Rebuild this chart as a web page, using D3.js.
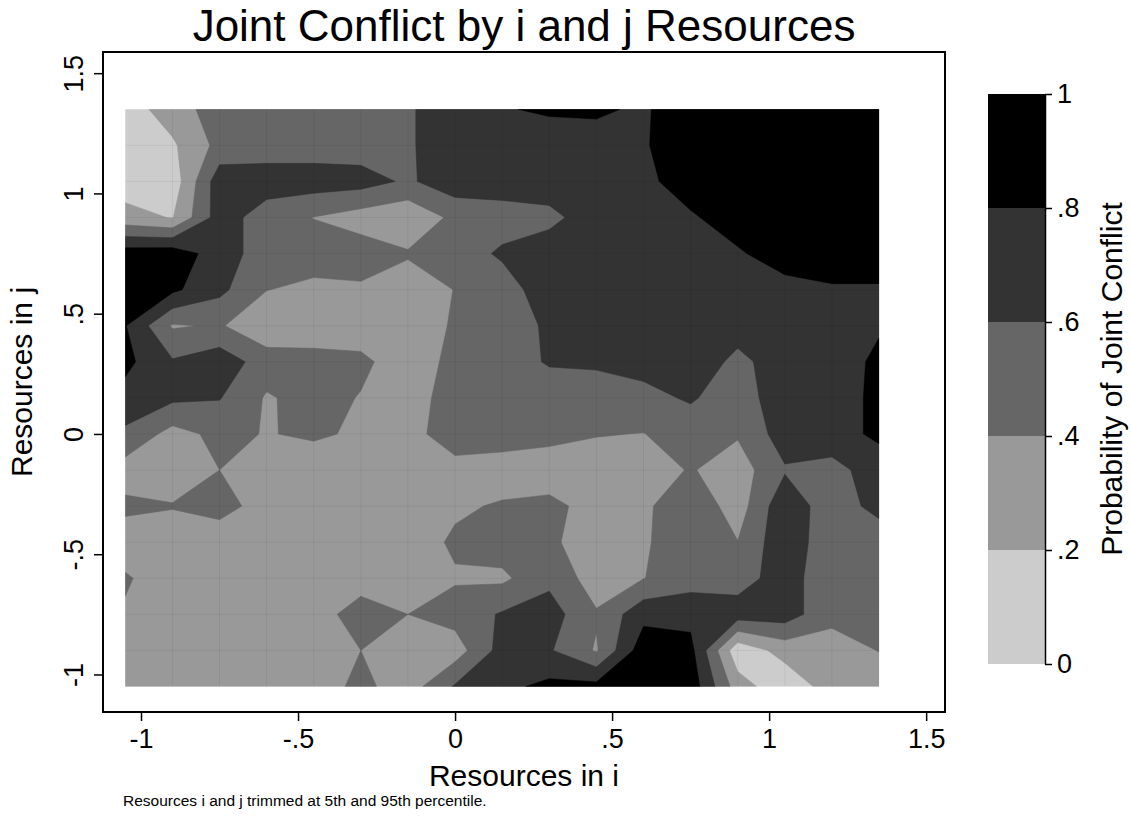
<!DOCTYPE html>
<html>
<head>
<meta charset="utf-8">
<script src="https://cdn.jsdelivr.net/npm/d3@7"></script>
<style>
	body { margin: 0; background: #fff; }
	text { font-family: "Liberation Sans", Arial, Helvetica, sans-serif; fill: #000; }
</style>
</head>
<body>
<div id="chart"></div>
<script>

// grid nodes, Resources in i (left to right) and in j (top to bottom)
const xNodes = [-1.05, -0.9, -0.75, -0.6, -0.45, -0.3, -0.15, 0, 0.15, 0.3, 0.45, 0.6, 0.75, 0.9, 1.05, 1.2, 1.35];
const yNodes = [1.35, 1.2, 1.05, 0.9, 0.75, 0.6, 0.45, 0.3, 0.15, 0, -0.15, -0.3, -0.45, -0.6, -0.75, -0.9, -1.05];

// probability of joint conflict, one row per j value
const pJ135  = [0.10, 0.30, 0.50, 0.50, 0.50, 0.50, 0.58, 0.70, 0.79, 0.82, 0.83, 0.77, 0.95, 0.95, 0.95, 0.95, 0.95];
const pJ120  = [0.10, 0.17, 0.46, 0.50, 0.50, 0.50, 0.58, 0.70, 0.70, 0.72, 0.72, 0.785, 0.90, 0.95, 0.95, 0.95, 0.95];
const pJ105  = [0.10, 0.08, 0.72, 0.70, 0.70, 0.68, 0.57, 0.72, 0.70, 0.70, 0.70, 0.75, 0.90, 0.95, 0.95, 0.95, 0.95];
const pJ090  = [0.27, 0.19, 0.70, 0.50, 0.395, 0.31, 0.24, 0.45, 0.51, 0.55, 0.70, 0.72, 0.775, 0.90, 0.95, 0.95, 0.95];
const pJ075  = [0.90, 0.92, 0.70, 0.50, 0.50, 0.50, 0.42, 0.50, 0.63, 0.70, 0.72, 0.72, 0.72, 0.776, 0.90, 0.95, 0.95];
const pJ060  = [0.90, 0.84, 0.65, 0.405, 0.35, 0.37, 0.30, 0.405, 0.50, 0.72, 0.72, 0.72, 0.72, 0.72, 0.73, 0.77, 0.77];
const pJ045  = [0.81, 0.38, 0.42, 0.25, 0.30, 0.30, 0.30, 0.42, 0.50, 0.63, 0.70, 0.70, 0.70, 0.70, 0.70, 0.72, 0.78];
const pJ030  = [0.85, 0.62, 0.72, 0.50, 0.46, 0.44, 0.30, 0.45, 0.50, 0.62, 0.63, 0.66, 0.75, 0.54, 0.72, 0.70, 0.84];
const pJ015  = [0.73, 0.64, 0.61, 0.38, 0.47, 0.39, 0.30, 0.50, 0.50, 0.48, 0.50, 0.55, 0.62, 0.50, 0.72, 0.70, 0.85];
const pJ000  = [0.56, 0.33, 0.45, 0.39, 0.43, 0.37, 0.30, 0.55, 0.50, 0.48, 0.41, 0.395, 0.50, 0.42, 0.70, 0.74, 0.83];
const pJm015 = [0.31, 0.30, 0.40, 0.30, 0.28, 0.30, 0.30, 0.30, 0.30, 0.25, 0.30, 0.30, 0.415, 0.30, 0.58, 0.52, 0.72];
const pJm030 = [0.44, 0.41, 0.49, 0.30, 0.30, 0.30, 0.30, 0.37, 0.42, 0.47, 0.30, 0.36, 0.55, 0.30, 0.75, 0.47, 0.68];
const pJm045 = [0.30, 0.30, 0.25, 0.30, 0.30, 0.30, 0.30, 0.43, 0.50, 0.45, 0.25, 0.38, 0.50, 0.405, 0.75, 0.45, 0.45];
const pJm060 = [0.42, 0.30, 0.30, 0.30, 0.30, 0.30, 0.30, 0.38, 0.36, 0.55, 0.30, 0.395, 0.51, 0.51, 0.70, 0.45, 0.50];
const pJm075 = [0.38, 0.30, 0.30, 0.30, 0.30, 0.50, 0.40, 0.48, 0.62, 0.69, 0.42, 0.74, 0.74, 0.70, 0.70, 0.45, 0.50];
const pJm090 = [0.30, 0.30, 0.30, 0.30, 0.30, 0.40, 0.30, 0.30, 0.68, 0.62, 0.38, 0.92, 0.86, 0.06, 0.28, 0.32, 0.405];
const pJm105 = [0.30, 0.30, 0.30, 0.30, 0.30, 0.45, 0.30, 0.62, 0.75, 0.85, 0.86, 0.92, 0.92, 0.30, 0.05, 0.30, 0.30];

const probRows = [pJ135, pJ120, pJ105, pJ090, pJ075, pJ060, pJ045, pJ030, pJ015,
	pJ000, pJm015, pJm030, pJm045, pJm060, pJm075, pJm090, pJm105];

// contour levels and fills
const levels = [0, 0.2, 0.4, 0.6, 0.8];
const levelColors = ["#cccccc", "#999999", "#666666", "#333333", "#000000"];

// ticks
const xTicks = [-1, -0.5, 0, 0.5, 1, 1.5];
const xTickLabels = ["-1", "-.5", "0", ".5", "1", "1.5"];
const yTicks = [-1, -0.5, 0, 0.5, 1, 1.5];
const yTickLabels = ["-1", "-.5", "0", ".5", "1", "1.5"];
const legendTicks = [0, 0.2, 0.4, 0.6, 0.8, 1];
const legendTickLabels = ["0", ".2", ".4", ".6", ".8", "1"];

const width = 1131, height = 837;
const frame = { left: 103, top: 52, right: 945, bottom: 712 };

const svg = d3.select("#chart")
	.append("svg")
	.attr("width", width)
	.attr("height", height);

const x = d3.scaleLinear().domain([-1.121, 1.56]).range([frame.left, frame.right]);
const y = d3.scaleLinear().domain([-1.156, 1.588]).range([frame.bottom, frame.top]);

// frame
svg.append("rect")
	.attr("x", frame.left)
	.attr("y", frame.top)
	.attr("width", frame.right - frame.left)
	.attr("height", frame.bottom - frame.top)
	.attr("fill", "#fff")
	.attr("stroke", "#000")
	.attr("stroke-width", 2);

// clip to the grid extent
const xMin = d3.min(xNodes), xMax = d3.max(xNodes);
const yMin = d3.min(yNodes), yMax = d3.max(yNodes);

svg.append("defs")
	.append("clipPath")
		.attr("id", "gridclip")
	.append("rect")
		.attr("x", x(xMin))
		.attr("y", y(yMax))
		.attr("width", x(xMax) - x(xMin))
		.attr("height", y(yMin) - y(yMax));

// contours
const nx = xNodes.length, ny = yNodes.length;
const step = xNodes[1] - xNodes[0];
const values = probRows.flat();

const contours = d3.contours()
	.size([nx, ny])
	.thresholds(levels)(values);

const proj = d3.geoTransform({
	point: function(px, py) {
		this.stream.point(
			x(xNodes[0] + (px - 0.5) * step),
			y(yNodes[0] - (py - 0.5) * step)
		);
	}
});
const path = d3.geoPath(proj);

const gPlot = svg.append("g").attr("clip-path", "url(#gridclip)");

gPlot.selectAll("path")
	.data(contours)
	.join("path")
		.attr("d", path)
		.attr("fill-rule", "evenodd")
		.attr("fill", (d, i) => levelColors[i])
		.attr("stroke", (d, i) => levelColors[i])
		.attr("stroke-width", 0.5);

// faint cell seams like the original rendering
gPlot.append("g")
	.selectAll("line.vx")
	.data(xNodes.slice(1, -1))
	.join("line")
		.attr("x1", d => x(d)).attr("x2", d => x(d))
		.attr("y1", y(yMax)).attr("y2", y(yMin))
		.attr("stroke", "#000")
		.attr("stroke-opacity", 0.06);

gPlot.append("g")
	.selectAll("line.hy")
	.data(yNodes.slice(1, -1))
	.join("line")
		.attr("y1", d => y(d)).attr("y2", d => y(d))
		.attr("x1", x(xMin)).attr("x2", x(xMax))
		.attr("stroke", "#000")
		.attr("stroke-opacity", 0.06);

// x axis
const gx = svg.append("g")
	.attr("transform", "translate(0," + frame.bottom + ")")
	.call(d3.axisBottom(x)
		.tickValues(xTicks)
		.tickFormat((d, i) => xTickLabels[i])
		.tickSize(9)
		.tickPadding(8));

gx.select(".domain").remove();
gx.selectAll("line").attr("stroke", "#000").attr("stroke-width", 1.5);
gx.selectAll("text")
	.attr("font-size", 27)
	.attr("font-family", null);

// y axis
const gy = svg.append("g")
	.attr("transform", "translate(" + frame.left + ",0)")
	.call(d3.axisLeft(y)
		.tickValues(yTicks)
		.tickFormat((d, i) => yTickLabels[i])
		.tickSize(9));

gy.select(".domain").remove();
gy.selectAll("line").attr("stroke", "#000").attr("stroke-width", 1.5);
gy.selectAll("text")
	.attr("font-size", 27)
	.attr("font-family", null)
	.attr("x", 0)
	.attr("dy", null)
	.attr("text-anchor", "middle")
	.attr("transform", "translate(-20,0) rotate(-90)");

// titles
svg.append("text")
	.attr("x", (frame.left + frame.right) / 2)
	.attr("y", 41)
	.attr("text-anchor", "middle")
	.attr("font-size", 44)
	.text("Joint Conflict by i and j Resources");

svg.append("text")
	.attr("x", (frame.left + frame.right) / 2)
	.attr("y", 786)
	.attr("text-anchor", "middle")
	.attr("font-size", 30)
	.text("Resources in i");

svg.append("text")
	.attr("transform", "translate(32," + ((frame.top + frame.bottom) / 2) + ") rotate(-90)")
	.attr("text-anchor", "middle")
	.attr("font-size", 30)
	.text("Resources in j");

svg.append("text")
	.attr("x", 123)
	.attr("y", 806)
	.attr("font-size", 15.5)
	.text("Resources i and j trimmed at 5th and 95th percentile.");

// legend
const legend = { left: 988, right: 1045, top: 94, bottom: 664 };
const ly = d3.scaleLinear().domain([0, 1]).range([legend.bottom, legend.top]);
const bands = levels.map((lv, i) => ({ lo: lv, hi: i < levels.length - 1 ? levels[i + 1] : 1, color: levelColors[i] }));

svg.append("g")
	.selectAll("rect")
	.data(bands)
	.join("rect")
		.attr("x", legend.left)
		.attr("width", legend.right - legend.left)
		.attr("y", d => ly(d.hi))
		.attr("height", d => ly(d.lo) - ly(d.hi))
		.attr("fill", d => d.color);

const gl = svg.append("g")
	.attr("transform", "translate(" + legend.right + ",0)")
	.call(d3.axisRight(ly)
		.tickValues(legendTicks)
		.tickFormat((d, i) => legendTickLabels[i])
		.tickSize(7)
		.tickSizeOuter(0)
		.tickPadding(5));

gl.select(".domain").attr("stroke", "#000").attr("stroke-width", 1.5);
gl.selectAll("line").attr("stroke", "#000").attr("stroke-width", 1.5);
gl.selectAll("text")
	.attr("font-size", 27)
	.attr("font-family", null);

svg.append("text")
	.attr("transform", "translate(1122," + ((legend.top + legend.bottom) / 2) + ") rotate(-90)")
	.attr("text-anchor", "middle")
	.attr("font-size", 30)
	.text("Probability of Joint Conflict");

</script>
</body>
</html>
